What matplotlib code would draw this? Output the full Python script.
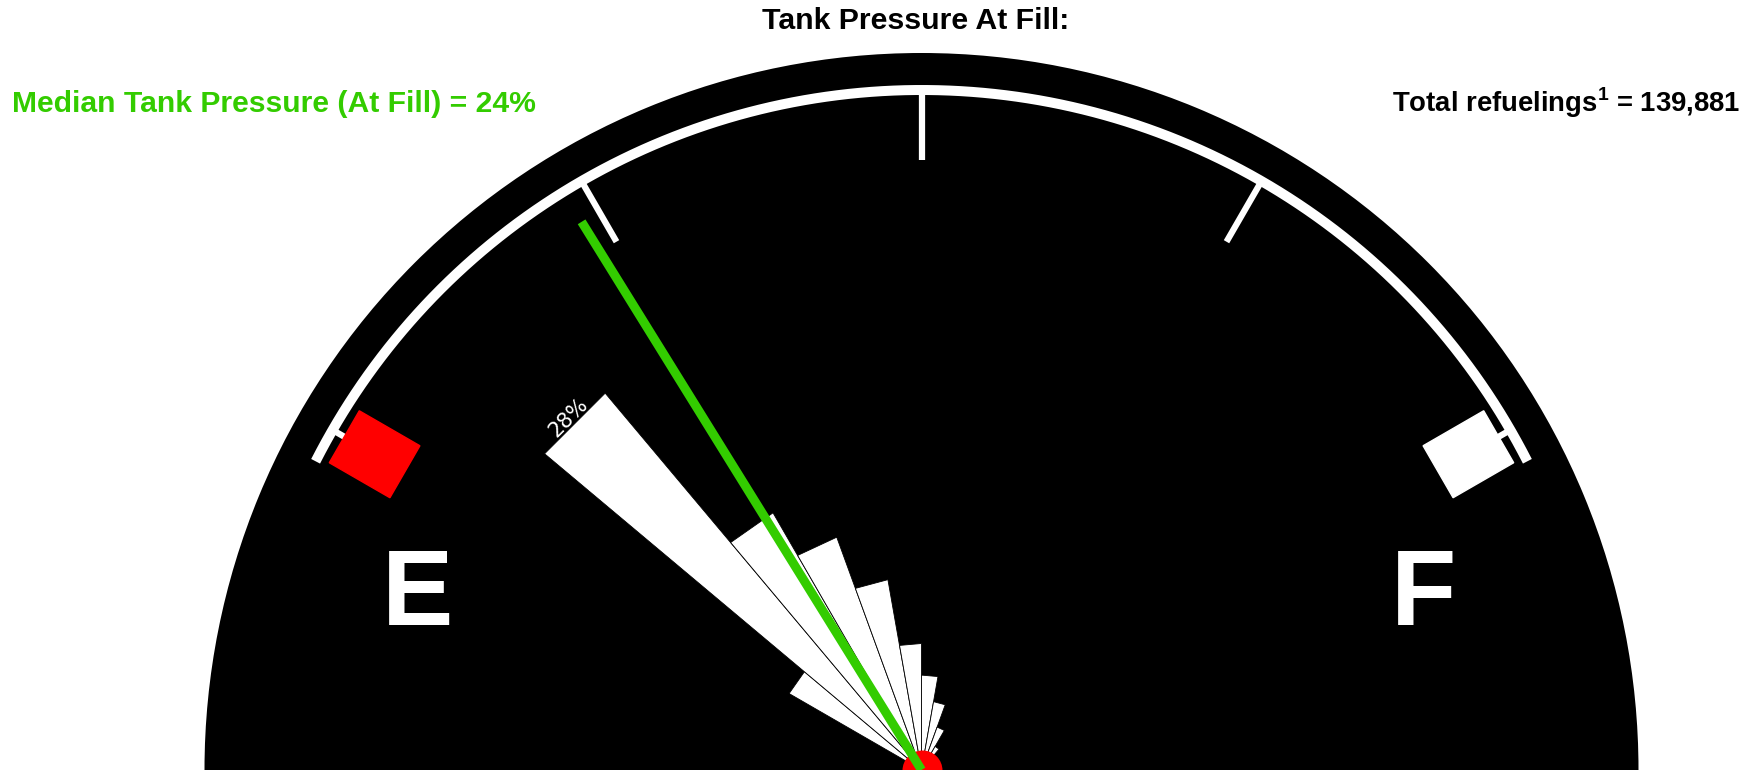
import numpy as np
import matplotlib
matplotlib.use("Agg")
import matplotlib.pyplot as plt
from matplotlib.patches import Rectangle

# ---- data ----
# tank pressure bins (lower edge, % of full), 12 bins
bin_lower = [0, 8.33, 16.67, 25, 33.33, 41.67, 50, 58.33, 66.67, 75, 83.33, 91.67]
bin_width = 8.33
# share of refuelings in each bin (%)
share_pct = [8.7, 28.0, 16.9, 14.1, 11.0, 7.2, 5.4, 3.95, 2.6, 1.55, 0.5, 0.1]
median_pct = 23.5
total_refuelings = 139881
gauge_ticks = [0, 25, 50, 75, 100]

plt.rcParams['font.family'] = ['Liberation Sans', 'DejaVu Sans']
plt.rcParams['mathtext.fontset'] = 'custom'
plt.rcParams['mathtext.rm'] = 'Liberation Sans:bold'
plt.rcParams['mathtext.bf'] = 'Liberation Sans:bold'

W, H = 1762, 770
GREEN = '#33cc00'
fig = plt.figure(figsize=(W / 100, H / 100), dpi=100)

# gauge geometry (pixels)
CX, CY = 921.5, 0
R_PX = 717
PX_PER_PCT = 492 / 28          # bar length per % of refuelings
R_MAX = R_PX / PX_PER_PCT


def rr(px):
    return px / PX_PER_PCT


def gauge(p):
    # 0% -> 60 deg left of vertical, 100% -> 60 deg right
    return np.radians(-60 + 1.2 * np.asarray(p, dtype=float))


ax = fig.add_axes([(CX - R_PX) / W, (CY - R_PX) / H, 2 * R_PX / W, 2 * R_PX / H],
                  projection='polar')
ax.set_facecolor('black')
ax.set_theta_zero_location('N')
ax.set_theta_direction(-1)
ax.set_ylim(0, R_MAX)
ax.set_xticks([])
ax.set_yticks([])
ax.grid(False)
ax.spines['polar'].set_visible(False)

# bars as wedges with straight outer edge
for lo, v in zip(bin_lower, share_pct):
    t0, t1 = gauge(lo), gauge(lo + bin_width)
    ax.fill([t0, t0, t1], [0, v, v], facecolor='white', edgecolor='black',
            linewidth=0.6, zorder=2)

# label on the tallest bar
i = int(np.argmax(share_pct))
ang = gauge(bin_lower[i] + bin_width / 2)
ax.text(ang, share_pct[i] + rr(7), f'{share_pct[i]:.0f}%', color='white', fontsize=15,
        rotation=-np.degrees(ang), rotation_mode='anchor', ha='center', va='center',
        family=['DejaVu Sans'], zorder=3)

# dial arc and ticks
t = gauge(np.linspace(-2.5, 102.5, 400))
ax.plot(t, np.full_like(t, rr(680)), color='white', lw=7.2, solid_capstyle='butt', zorder=2)
for p in gauge_ticks:
    ax.plot([gauge(p)] * 2, [rr(610), rr(680)], color='white', lw=4.5,
            solid_capstyle='butt', zorder=2)

# hub and needle
ax.plot([0], [0], 'o', ms=28.8, color='red', mec='none', zorder=4)
ax.plot([gauge(median_pct)] * 2, [0, rr(645)], color=GREEN, lw=6.5,
        solid_capstyle='butt', zorder=5)

# overlay in pixel coordinates
ov = fig.add_axes([0, 0, 1, 1])
ov.set_xlim(0, W)
ov.set_ylim(0, H)
ov.axis('off')

for p, col in [(0, 'red'), (100, 'white')]:
    a = gauge(p)
    x = CX + 631.5 * np.sin(a)
    y = CY + 631.5 * np.cos(a)
    ov.add_patch(Rectangle((x - 35, y - 30), 70, 60, angle=90 - np.degrees(a),
                           rotation_point='center', color=col, zorder=3))

ov.text(417.8, 145, 'E', color='white', fontsize=77, fontweight='bold', ha='center', va='baseline')
ov.text(1423.5, 145, 'F', color='white', fontsize=77, fontweight='bold', ha='center', va='baseline')

ov.text(916, 740.7, 'Tank Pressure At Fill:', fontsize=21.8, fontweight='bold',
        ha='center', va='baseline')
ov.text(12, 658.5, f'Median Tank Pressure (At Fill) = {median_pct:.0f}%', color=GREEN,
        fontsize=21.7, fontweight='bold', ha='left', va='baseline')
ov.text(1740, 658.3, r'Total refuelings$^{1}$ = ' + f'{total_refuelings:,}', fontsize=19.8,
        fontweight='bold', ha='right', va='baseline')

fig.savefig('out.png', dpi=100, facecolor='white')
